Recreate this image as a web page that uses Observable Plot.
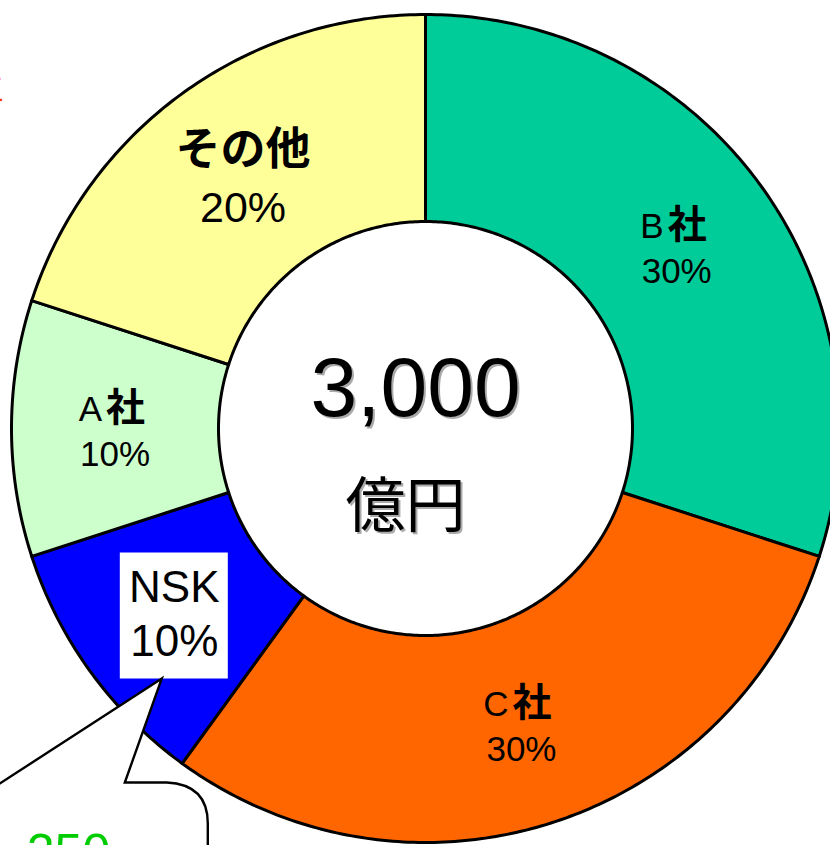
<!DOCTYPE html>
<html><head><meta charset="utf-8">
<script src="https://cdn.jsdelivr.net/npm/d3@7"></script>
<script src="https://cdn.jsdelivr.net/npm/@observablehq/plot@0.6"></script>
<style>
body{margin:0;background:#fff;overflow:hidden}
#chart{width:830px;height:845px;position:relative;overflow:hidden}
</style>
</head><body><div id="chart"></div>
<script>
// ---- data ----
const categories = ["B社", "C社", "NSK", "A社", "その他"];
const values = [900, 900, 300, 300, 600];          // 億円
const colors = ["#00CC99", "#FF6600", "#0000FF", "#CCFFCC", "#FFFF99"];
const unitLabel = "億円";
const calloutText = "250";
const titleFragment = "三";

// ---- layout constants ----
const W = 830, H = 845, R = 414, cx = 425, cy = 428;
const innerR = 0.5, labelR = 0.75;
const FONT = "'Liberation Sans', Arial, 'Noto Sans CJK JP', sans-serif";
const CJK = "'Noto Sans CJK JP', sans-serif";

const total = d3.sum(values);
const arcs = d3.pie().sort(null).startAngle(0).endAngle(2 * Math.PI)(values);

const ring = [];
arcs.forEach((a, i) => {
  const n = Math.max(12, Math.ceil((a.endAngle - a.startAngle) * 80));
  for (let k = 0; k <= n; k++) {
    const t = a.startAngle + (a.endAngle - a.startAngle) * k / n;
    ring.push({name: categories[i], x: Math.sin(t), y: Math.cos(t)});
  }
  for (let k = n; k >= 0; k--) {
    const t = a.startAngle + (a.endAngle - a.startAngle) * k / n;
    ring.push({name: categories[i], x: innerR * Math.sin(t), y: innerR * Math.cos(t)});
  }
});

const labels = arcs.map((a, i) => {
  const m = (a.startAngle + a.endAngle) / 2;
  return {name: categories[i], pct: Math.round(values[i] / total * 100) + "%",
          x: labelR * Math.sin(m), y: labelR * Math.cos(m)};
});
const sha = labels.filter(d => d.name.endsWith("社"));
const other = labels.filter(d => d.name === "その他");
const nsk = labels.filter(d => d.name === "NSK");
const center = [{x: 0, y: 0, total: d3.format(",")(total), unit: unitLabel}];

const plot = Plot.plot({
  width: W, height: H, margin: 0,
  x: {domain: [-cx / R, (W - cx) / R], axis: null},
  y: {domain: [-(H - cy) / R, cy / R], axis: null},
  color: {domain: categories, range: colors},
  style: {fontFamily: FONT, background: "white"},
  marks: [
    Plot.line(ring, {x: "x", y: "y", z: "name", fill: "name", stroke: "black",
      strokeWidth: 3, strokeLinejoin: "round", curve: "linear-closed"}),
    // NSK white label box
    Plot.rect(nsk, {x1: "x", x2: "x", y1: "y", y2: "y", fill: "white",
      insetLeft: -54, insetRight: -54, insetTop: -58, insetBottom: -68}),
    // "X社" labels: letter + bold 社
    Plot.text(sha, {x: "x", y: "y", text: d => d.name.replace("社", ""), textAnchor: "end",
      dx: -13, dy: -19, fontSize: 35, fill: "black"}),
    Plot.text(sha, {x: "x", y: "y", text: d => "社", textAnchor: "start",
      dx: -9, dy: -20, fontSize: 39, fontWeight: "bold", fontFamily: CJK, fill: "black"}),
    Plot.text(sha, {x: "x", y: "y", text: "pct", dy: 26, fontSize: 35, fill: "black"}),
    // その他
    Plot.text(other, {x: "x", y: "y", text: "name", dy: -27, fontSize: 45,
      fontWeight: "bold", fontFamily: CJK, fill: "black"}),
    Plot.text(other, {x: "x", y: "y", text: "pct", dy: 31, fontSize: 43, fill: "black"}),
    // NSK
    Plot.text(nsk, {x: "x", y: "y", text: "name", dy: -23, fontSize: 44, fill: "black"}),
    Plot.text(nsk, {x: "x", y: "y", text: "pct", dy: 31, fontSize: 44, fill: "black"}),
    // center total with shadow
    Plot.text(center, {x: "x", y: "y", text: "total", dx: -8, dy: -37, fontSize: 84, fill: "#aaa"}),
    Plot.text(center, {x: "x", y: "y", text: "total", dx: -10, dy: -39, fontSize: 84, fill: "black"}),
    Plot.text(center, {x: "x", y: "y", text: "unit", dx: -18, dy: 81, fontSize: 60, fontFamily: CJK, fill: "#aaa"}),
    Plot.text(center, {x: "x", y: "y", text: "unit", dx: -20, dy: 79, fontSize: 60, fontFamily: CJK, fill: "black"})
  ]
});

document.getElementById("chart").appendChild(plot);

// callout bubble anchored on the NSK label box
const xs = plot.scale("x"), ys = plot.scale("y");
const svg = d3.select(plot);
const lab = nsk[0];
const tx = xs.apply(lab.x) - 12, ty = ys.apply(lab.y) + 68;
const p = d3.path();
p.moveTo(tx, ty);
p.lineTo(tx - 270, ty + 175);
p.lineTo(tx - 270, ty + 260);
p.lineTo(tx + 46, ty + 260);
p.lineTo(tx + 46, ty + 145);
p.quadraticCurveTo(tx + 46, ty + 106, tx + 5, ty + 104);
p.lineTo(tx - 37, ty + 104);
p.closePath();
svg.append("path").attr("d", p.toString()).attr("fill", "white")
  .attr("stroke", "black").attr("stroke-width", 2.4).attr("stroke-linejoin", "miter");
svg.append("text").attr("x", tx - 135).attr("y", ty + 190).attr("text-anchor", "start")
  .attr("font-size", 50).attr("font-family", FONT).attr("fill", "#00CC00").text(calloutText);

// cropped title fragment at the top-left edge
svg.append("text").attr("x", 4).attr("y", 100).attr("text-anchor", "end")
  .attr("font-size", 30).attr("font-family", CJK).attr("fill", "#FF3300").text(titleFragment);
</script>
</body></html>
